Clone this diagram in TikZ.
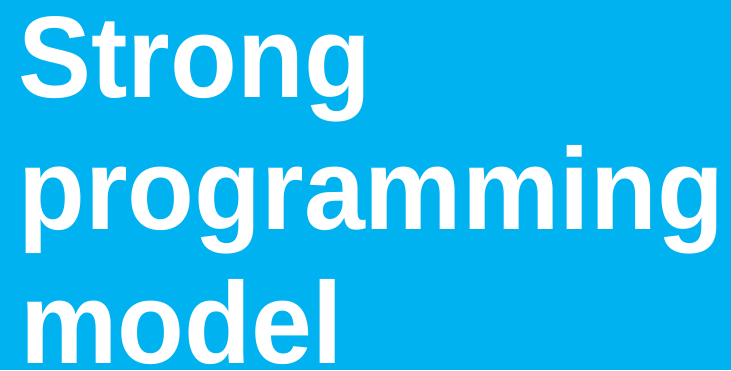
\documentclass[tikz,border=0pt]{standalone}
\usepackage{fontspec}
\setmainfont{Liberation Sans}
\usepackage{tikz}

\definecolor{skyblue}{RGB}{0,178,240}

\begin{document}
\begin{tikzpicture}[x=1pt, y=1pt, word/.style = {anchor=base west, inner sep=0pt, text=white, font=\fontsize{116}{132}\selectfont\bfseries, xscale=0.944, transform shape}] 
\fill[skyblue] (0,0) rectangle (731,370); 
\useasboundingbox (0,0) rectangle (731,370); 
\node[word] (strong) at (18,272) {Strong}; 
\node[word] (prog) at (18,140) {programming}; 
\node[word] (model) at (20,7) {model}; 
\end{tikzpicture}
\end{document}
